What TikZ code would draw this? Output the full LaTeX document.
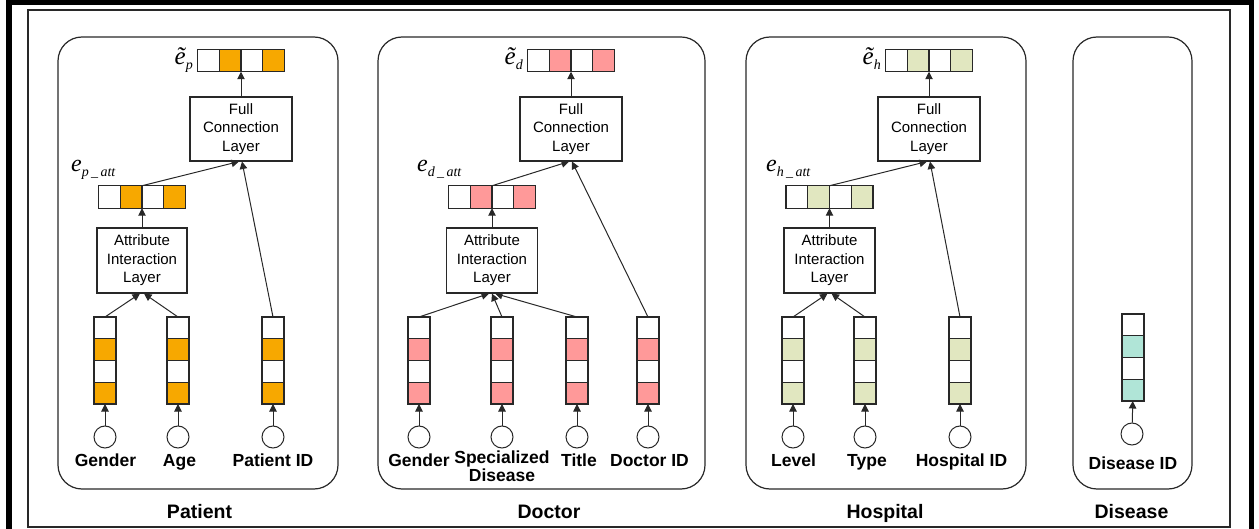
\documentclass[tikz,border=0pt]{standalone}
\usepackage{fontspec}
\setmainfont{Liberation Sans}
\newfontfamily\tms{Liberation Serif}
\usetikzlibrary{arrows.meta,calc}
\definecolor{corange}{RGB}{247,168,0}
\definecolor{cpink}{RGB}{255,153,153}
\definecolor{colive}{RGB}{225,231,192}
\definecolor{cteal}{RGB}{176,229,215}
\definecolor{ink}{RGB}{40,40,40}
\tikzset{
  hcell/.style={draw=ink, line width=1.2pt, fill=white, inner sep=0pt, outer sep=0pt, minimum width=21.75pt, minimum height=22.5pt},
  vcell/.style={draw=ink, line width=1.2pt, fill=white, inner sep=0pt, outer sep=0pt, minimum width=22pt, minimum height=21.75pt},
  layer/.style={draw=ink, line width=1.1pt, align=center, inner sep=0pt, font=\fontsize{15}{18.5}\selectfont},
  inp/.style={circle, draw=ink, line width=1.0pt, minimum size=22pt, inner sep=0pt},
  lab/.style={font=\fontsize{17.5}{17.5}\selectfont\bfseries, align=center, inner sep=0pt},
  ttl/.style={font=\fontsize{19.5}{20}\selectfont\bfseries, inner sep=0pt},
  elab/.style={inner sep=0pt},
  panel/.style={draw=ink, line width=1.2pt, rounded corners=24pt},
  arr/.style={-{Triangle[length=7.5pt,width=7.5pt]}, line width=1.0pt, draw=ink},
}
\newcommand\hvec[4]{%
  \node[hcell] (#1-1) at ({#2-32.625},#3) {};
  \node[hcell,fill=#4] (#1-2) at ({#2-10.875},#3) {};
  \node[hcell] (#1-3) at ({#2+10.875},#3) {};
  \node[hcell,fill=#4] (#1-4) at ({#2+32.625},#3) {};
}
\newcommand\vvec[4]{%
  \node[vcell] (#1-1) at (#2,{#3+10.875}) {};
  \node[vcell,fill=#4] (#1-2) at (#2,{#3+32.625}) {};
  \node[vcell] (#1-3) at (#2,{#3+54.375}) {};
  \node[vcell,fill=#4] (#1-4) at (#2,{#3+76.125}) {};
}
\newcommand\tle[1]{{\tms\itshape\fontsize{25}{25}\selectfont\~{e}}\raisebox{-5pt}{\tms\itshape\fontsize{14}{14}\selectfont #1}}
\newcommand\atte[1]{{\tms\itshape\fontsize{24}{24}\selectfont e}\raisebox{-5pt}{\tms\itshape\fontsize{14}{14}\selectfont #1\,\_\,att}}
\begin{document}
\begin{tikzpicture}[x=1pt,y=-1pt]
\useasboundingbox (0,0) rectangle (1259,529);
% frames
\draw[line width=5.5pt] (9,529) -- (9,2.5) -- (1251.5,2.5) -- (1251.5,529);
\draw[line width=1.2pt, draw=ink] (28,10) rectangle (1230,527);
% panels
\draw[panel] (58,37) rectangle (338,489);
\draw[panel] (378,37) rectangle (705,489);
\draw[panel] (746,37) rectangle (1026,489);
\draw[panel] (1073,37) rectangle (1192,489);
\node[ttl, anchor=base] (tp) at (199.5,518) {Patient};
\node[ttl, anchor=base] (td) at (549,518) {Doctor};
\node[ttl, anchor=base] (th) at (885,518) {Hospital};
\node[ttl, anchor=base] (tdi) at (1131.5,518) {Disease};

% ===== Patient =====
\hvec{pt}{241}{60.5}{corange}
\node[layer, minimum width=102pt, minimum height=64pt] (pfc) at (241,129) {Full\\Connection\\Layer};
\hvec{pa}{142}{197}{corange}
\node[layer, minimum width=90pt, minimum height=65pt] (pail) at (142,260.5) {Attribute\\Interaction\\Layer};
\vvec{pg}{105}{317}{corange}
\vvec{pag}{178}{317}{corange}
\vvec{pid}{273}{317}{corange}
\node[inp] (pg-in) at (105,437) {};
\node[inp] (pag-in) at (178,437) {};
\node[inp] (pid-in) at (273,437) {};
\node[lab, anchor=base] (pg-l) at (105.5,466) {Gender};
\node[lab, anchor=base] (pag-l) at (179.5,466) {Age};
\node[lab, anchor=base] (pid-l) at (273,466) {Patient ID};
\node[elab, anchor=base east] (pt-l) at (193,65) {\tle{p}};
\node[elab, anchor=base west] (pa-l) at (71,172) {\atte{p}};
\draw[arr] (pfc) -- (pt-2.south east);
\draw[arr] (pail) -- (pa-2.south east);
\draw[arr] (pa-2.north east) -- ($(pfc.south)+(-2,0)$);
\draw[arr] (pid-1.north) -- ($(pfc.south)+(1,0)$);
\draw[arr] (pg-1.north) -- ($(pail.south)+(-2,0)$);
\draw[arr] (pag-1.north) -- ($(pail.south)+(2,0)$);
\draw[arr] (pg-in) -- (pg-4);
\draw[arr] (pag-in) -- (pag-4);
\draw[arr] (pid-in) -- (pid-4);

% ===== Doctor =====
\hvec{dt}{571}{60.5}{cpink}
\node[layer, minimum width=102pt, minimum height=64pt] (dfc) at (571,129) {Full\\Connection\\Layer};
\hvec{da}{492}{197}{cpink}
\node[layer, minimum width=91pt, minimum height=65pt] (dail) at (492,260.5) {Attribute\\Interaction\\Layer};
\vvec{dg}{419}{317}{cpink}
\vvec{ds}{502}{317}{cpink}
\vvec{dti}{577}{317}{cpink}
\vvec{did}{648}{317}{cpink}
\node[inp] (dg-in) at (419,437) {};
\node[inp] (ds-in) at (502,437) {};
\node[inp] (dti-in) at (577,437) {};
\node[inp] (did-in) at (648,437) {};
\node[lab, anchor=base] (dg-l) at (419,466) {Gender};
\node[lab, anchor=base] (ds-l) at (502,481) {Specialized\\Disease};
\node[lab, anchor=base] (dti-l) at (579,466) {Title};
\node[lab, anchor=base] (did-l) at (649.5,466) {Doctor ID};
\node[elab, anchor=base east] (dt-l) at (523,65) {\tle{d}};
\node[elab, anchor=base west] (da-l) at (417,172) {\atte{d}};
\draw[arr] (dfc) -- (dt-2.south east);
\draw[arr] (dail) -- (da-2.south east);
\draw[arr] (da-2.north east) -- ($(dfc.south)+(-2,0)$);
\draw[arr] (did-1.north) -- ($(dfc.south)+(1,0)$);
\draw[arr] (dg-1.north) -- ($(dail.south)+(-3,0)$);
\draw[arr] (ds-1.north) -- ($(dail.south)+(0,0)$);
\draw[arr] (dti-1.north) -- ($(dail.south)+(3,0)$);
\draw[arr] (dg-in) -- (dg-4);
\draw[arr] (ds-in) -- (ds-4);
\draw[arr] (dti-in) -- (dti-4);
\draw[arr] (did-in) -- (did-4);

% ===== Hospital =====
\hvec{ht}{929}{60.5}{colive}
\node[layer, minimum width=102pt, minimum height=64pt] (hfc) at (929,129) {Full\\Connection\\Layer};
\hvec{ha}{829.5}{197}{colive}
\node[layer, minimum width=91pt, minimum height=65pt] (hail) at (829.5,260.5) {Attribute\\Interaction\\Layer};
\vvec{hl}{793}{317}{colive}
\vvec{hty}{865}{317}{colive}
\vvec{hid}{960}{317}{colive}
\node[inp] (hl-in) at (793,437) {};
\node[inp] (hty-in) at (865,437) {};
\node[inp] (hid-in) at (960,437) {};
\node[lab, anchor=base] (hl-l) at (793.5,466) {Level};
\node[lab, anchor=base] (hty-l) at (867,466) {Type};
\node[lab, anchor=base] (hid-l) at (961.5,466) {Hospital ID};
\node[elab, anchor=base east] (ht-l) at (881,65) {\tle{h}};
\node[elab, anchor=base west] (ha-l) at (766,172) {\atte{h}};
\draw[arr] (hfc) -- (ht-2.south east);
\draw[arr] (hail) -- (ha-2.south east);
\draw[arr] (ha-2.north east) -- ($(hfc.south)+(-2,0)$);
\draw[arr] (hid-1.north) -- ($(hfc.south)+(1,0)$);
\draw[arr] (hl-1.north) -- ($(hail.south)+(-2,0)$);
\draw[arr] (hty-1.north) -- ($(hail.south)+(2,0)$);
\draw[arr] (hl-in) -- (hl-4);
\draw[arr] (hty-in) -- (hty-4);
\draw[arr] (hid-in) -- (hid-4);

% ===== Disease =====
\vvec{dd}{1133}{314}{cteal}
\node[inp] (dd-in) at (1132,434) {};
\node[lab, anchor=base] (dd-l) at (1133,469) {Disease ID};
\draw[arr] (dd-in) -- (dd-4);
\end{tikzpicture}
\end{document}
